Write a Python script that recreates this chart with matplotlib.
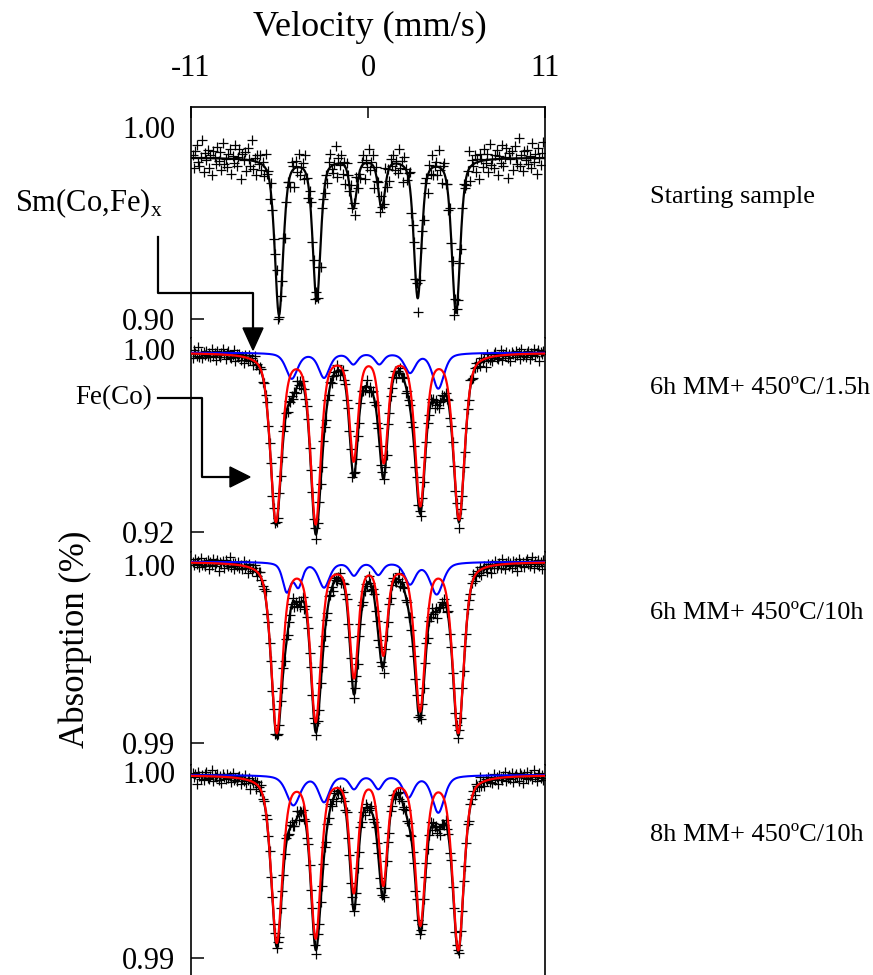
import numpy as np
import matplotlib.pyplot as plt
from matplotlib.patches import Polygon

plt.rcParams["font.family"] = ["Liberation Serif", "DejaVu Serif"]
plt.rcParams["mathtext.fontset"] = "custom"
plt.rcParams["mathtext.rm"] = "Liberation Serif"

# ---- data -------------------------------------------------------------
VELOCITY = np.linspace(-10.9, 10.9, 256)      # spectrometer channels (mm/s)
V_FIT = np.linspace(-11, 11, 1200)

SAMPLES = ["Starting sample", "6h MM+ 450ºC/1.5h",
           "6h MM+ 450ºC/10h", "8h MM+ 450ºC/10h"]
TICK_HI = [1.00, 1.00, 1.00, 1.00]
TICK_LO = [0.90, 0.92, 0.99, 0.99]
TICK_LABELS = [["1.00", "0.90"], ["1.00", "0.92"], ["1.00", "0.99"], ["1.00", "0.99"]]

BASELINE = [0.9843, 0.9984, 1.00018, 0.99984]
NOISE_SIGMA = [0.0045, 0.0013, 0.00017, 0.00016]

# Fe(Co) sextet (black fit in the starting sample, red in the others)
FE_POS = [[-5.53, -3.19, -0.91, 0.85, 3.09, 5.47],
          [-5.72, -3.25, -0.89, 0.98, 3.25, 5.66],
          [-5.67, -3.25, -0.87, 0.95, 3.23, 5.61],
          [-5.67, -3.25, -0.88, 0.95, 3.25, 5.61]]
FE_DEPTH = [[0.0815, 0.0740, 0.0255, 0.0255, 0.0725, 0.0805],
            [0.0730, 0.0735, 0.0455, 0.0463, 0.0655, 0.0720],
            [0.0095, 0.0088, 0.0063, 0.0050, 0.0082, 0.0095],
            [0.0089, 0.0086, 0.0061, 0.0057, 0.0079, 0.0093]]
FE_WIDTH = [[0.62, 0.58, 0.50, 0.50, 0.58, 0.62],
            [0.82, 0.76, 0.62, 0.62, 0.76, 0.82],
            [0.82, 0.76, 0.62, 0.62, 0.76, 0.82],
            [0.82, 0.76, 0.62, 0.62, 0.76, 0.82]]

# Sm(Co,Fe)x component (blue)
SM_POS = [[],
          [-4.74, -2.73, -0.91, 0.70, 2.61, 4.37],
          [-5.05, -4.33, -2.73, -0.87, 0.64, 2.61, 4.27],
          [-4.64, -2.73, -0.87, 0.64, 2.51, 4.37]]
SM_DEPTH = [[],
            [0.0112, 0.0107, 0.0047, 0.0047, 0.0084, 0.0155],
            [0.0016, 0.0013, 0.0014, 0.00072, 0.00068, 0.00120, 0.0018],
            [0.0016, 0.0014, 0.00070, 0.00070, 0.00115, 0.0020]]
SM_WIDTH = [[],
            [0.85, 0.80, 0.65, 0.65, 0.80, 0.85],
            [0.60, 0.60, 0.80, 0.65, 0.65, 0.80, 0.95],
            [1.00, 0.80, 0.65, 0.65, 0.80, 0.90]]

# remaining central absorption contained in the total fit only
EXTRA_POS = [[], [0.20], [-0.40, 0.62], [0.10]]
EXTRA_DEPTH = [[], [0.0085], [0.0006, 0.0006], [0.0008]]
EXTRA_WIDTH = [[], [1.3], [0.5, 0.5], [1.2]]

NOISE = [0.3, -1.2, 0.8, 1.5, -0.4, -0.9, 0.1, 2.1, -1.6, 0.6, -0.2, 1.0,
         -1.1, 0.4, -2.0, 0.9, 0.2, -0.7, 1.3, -0.3, 0.7, -1.4, 1.8, -0.6,
         0.0, -1.0, 0.5, 1.1, -1.8, 0.3, -0.5, 1.6, -0.8, 0.2, 1.2, -2.3,
         0.6, -0.1, 0.9, -1.3, 1.4, 0.1, -0.6, 2.4, -0.9, 0.4, -1.5, 0.8,
         -0.2, 1.0, -0.7, 0.3, -1.1, 1.7, -0.4, 0.5, -1.9, 1.2, 0.0, -0.8,
         0.6, 1.9, -1.2, -0.3, 0.7, -0.5, 1.3, -1.7, 0.2, 0.9, -0.1, -1.4,
         1.1, 0.4, -2.1, 0.8, -0.6, 1.5, -0.9, 0.1, 0.6, -1.0, 2.0, -0.2,
         -1.6, 0.5, 1.2, -0.7, 0.3, -1.3, 1.0, -0.4, 0.7, -2.5, 1.4, 0.2, -0.8]

# ---- layout (pixels of the 873x975 figure) -----------------------------
W_PX, H_PX = 873, 975
AX_LEFT, AX_RIGHT = 191, 545
PANEL_PX = [(107, 338), (338, 552), (552, 765), (765, 975)]
TICK_PX = [(127.5, 319), (349, 532), (565, 743), (772, 958)]
LABEL_Y = [197, 388, 613, 835]
ETA = 0.5   # lorentzian fraction of the line shape


def absorption(v, pos, depth, width):
    out = np.zeros_like(v)
    for p, d, w in zip(pos, depth, width):
        x = 2 * (v - p) / w
        out += d * (ETA / (1 + x ** 2) + (1 - ETA) * np.exp(-np.log(2) * x ** 2))
    return out


fig = plt.figure(figsize=(W_PX / 100, H_PX / 100), dpi=100)

for i in range(4):
    top, bot = PANEL_PX[i]
    ax = fig.add_axes([AX_LEFT / W_PX, 1 - bot / H_PX,
                       (AX_RIGHT - AX_LEFT) / W_PX, (bot - top) / H_PX])
    hi_px, lo_px = TICK_PX[i]
    scale = (TICK_HI[i] - TICK_LO[i]) / (lo_px - hi_px)
    ax.set_ylim(TICK_LO[i] - (bot - lo_px) * scale, TICK_HI[i] + (hi_px - top) * scale)
    ax.set_xlim(-11, 11)

    base = BASELINE[i]
    fe_fit = absorption(V_FIT, FE_POS[i], FE_DEPTH[i], FE_WIDTH[i])
    sm_fit = absorption(V_FIT, SM_POS[i], SM_DEPTH[i], SM_WIDTH[i])
    ex_fit = absorption(V_FIT, EXTRA_POS[i], EXTRA_DEPTH[i], EXTRA_WIDTH[i])
    total_ch = (absorption(VELOCITY, FE_POS[i], FE_DEPTH[i], FE_WIDTH[i])
                + absorption(VELOCITY, SM_POS[i], SM_DEPTH[i], SM_WIDTH[i])
                + absorption(VELOCITY, EXTRA_POS[i], EXTRA_DEPTH[i], EXTRA_WIDTH[i]))
    noise = np.roll(np.resize(NOISE, VELOCITY.size), 23 * i) * NOISE_SIGMA[i]

    ax.plot(V_FIT, base - fe_fit - sm_fit - ex_fit, color="black", lw=1.6, zorder=2)
    ax.plot(VELOCITY, base - total_ch + noise, "+", color="black",
            ms=7, mew=0.9, zorder=2.5)
    if SM_POS[i]:
        ax.plot(V_FIT, base - sm_fit, color="#0000ff", lw=1.5, zorder=3)
        ax.plot(V_FIT, base - fe_fit, color="#ff0000", lw=1.6, zorder=4)

    ax.set_yticks([TICK_HI[i], TICK_LO[i]])
    ax.set_yticklabels(TICK_LABELS[i])
    ax.tick_params(axis="y", direction="in", length=9, width=1.1,
                   labelsize=22, pad=11.5)
    for tk in ax.yaxis.get_major_ticks():
        if tk.get_loc() == TICK_HI[i]:
            tk.tick1line.set_visible(False)

    for side in ("left", "right", "top", "bottom"):
        ax.spines[side].set_linewidth(1.2)
    ax.spines["bottom"].set_visible(False)
    if i == 0:
        ax.xaxis.tick_top()
        ax.set_xticks([-11, 0, 11])
        ax.set_xticklabels(["-11", "0", "11"])
        ax.tick_params(axis="x", direction="in", length=8, width=1.1,
                       labelsize=22, pad=17)
    else:
        ax.spines["top"].set_visible(False)
        ax.set_xticks([])

# overlay for labels and arrows, in pixel coordinates
ov = fig.add_axes([0, 0, 1, 1], zorder=10)
ov.set_xlim(0, W_PX)
ov.set_ylim(H_PX, 0)
ov.axis("off")
ov.patch.set_visible(False)

ov.text(370, 27, "Velocity (mm/s)", fontsize=26, ha="center", va="center")
ov.text(75, 639, "Absorption (%)", fontsize=25, rotation=90, ha="center", va="center")
for label, y in zip(SAMPLES, LABEL_Y):
    ov.text(650, y, label, fontsize=19, ha="left", va="center")

ov.text(15, 211, r"Sm(Co,Fe)$_\mathregular{x}$", fontsize=22, ha="left", va="baseline")
ov.plot([158, 158, 253, 253], [237, 293, 293, 330], color="black", lw=1.6)
ov.add_patch(Polygon([[243, 328], [263, 328], [253, 350]], closed=True, color="black"))

ov.text(152, 398, "Fe(Co)", fontsize=19.5, ha="right", va="center")
ov.plot([158, 202, 202, 232], [398, 398, 477, 477], color="black", lw=1.6)
ov.add_patch(Polygon([[230, 467], [230, 487], [250, 477]], closed=True, color="black"))

fig.savefig("out.png", dpi=100)
